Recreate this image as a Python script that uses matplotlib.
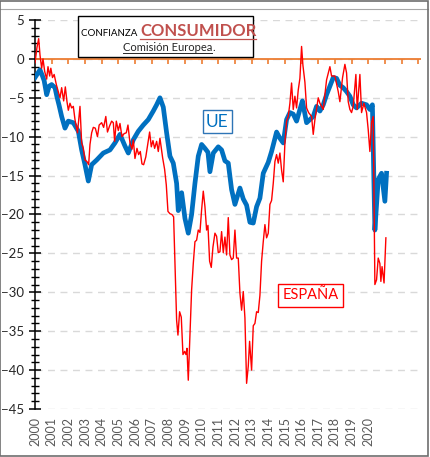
import matplotlib
matplotlib.use("Agg")
import matplotlib.pyplot as plt
from matplotlib.patches import Rectangle
from matplotlib.lines import Line2D

plt.rcParams['font.family'] = ['Lato', 'DejaVu Sans']

## ---- datos (fecha decimal, indicador) ---- ##
ue_fecha = [2000.00, 2000.15, 2000.30, 2000.45, 2000.55, 2000.70, 2000.85, 2001.00, 2001.20, 2001.32,
            2001.45, 2001.60, 2001.80, 2002.00, 2002.30, 2002.60, 2002.80, 2003.00, 2003.20, 2003.40,
            2003.70, 2004.10, 2004.50, 2004.80, 2005.10, 2005.40, 2005.60, 2005.90, 2006.20, 2006.50,
            2006.80, 2007.10, 2007.30, 2007.50, 2007.70, 2007.90, 2008.10, 2008.30, 2008.50, 2008.60,
            2008.80, 2009.00, 2009.20, 2009.40, 2009.60, 2009.80, 2010.00, 2010.20, 2010.38, 2010.50,
            2010.70, 2011.00, 2011.20, 2011.40, 2011.60, 2011.80, 2012.00, 2012.30, 2012.50, 2012.70,
            2012.90, 2013.10, 2013.30, 2013.50, 2013.70, 2014.00, 2014.20, 2014.50, 2014.70, 2014.90,
            2015.10, 2015.30, 2015.50, 2015.70, 2015.90, 2016.05, 2016.30, 2016.50, 2016.70, 2016.90,
            2017.10, 2017.30, 2017.50, 2017.70, 2017.90, 2018.10, 2018.30, 2018.50, 2018.70, 2018.90,
            2019.10, 2019.30, 2019.60, 2019.90, 2020.10, 2020.25, 2020.40, 2020.60, 2020.80, 2021.00,
            2021.10]
ue_valor = [-2.4, -1.9, -1.4, -2.2, -2.8, -4.6, -3.5, -3.3, -3.7, -4.9,
            -6.0, -7.4, -8.9, -8.0, -8.2, -9.3, -11.7, -13.6, -15.7, -13.6,
            -13.0, -12.1, -11.7, -10.8, -9.7, -11.2, -12.1, -10.4, -9.3, -8.5,
            -7.8, -6.7, -5.9, -5.0, -6.2, -9.5, -12.5, -13.4, -16.0, -19.5,
            -17.2, -20.5, -22.4, -20.0, -16.0, -12.5, -11.0, -11.5, -12.0, -14.5,
            -12.1, -11.3, -11.7, -13.1, -13.4, -16.8, -18.7, -16.6, -18.0, -18.8,
            -21.0, -21.1, -19.0, -17.9, -14.7, -13.3, -11.9, -9.4, -10.2, -10.8,
            -7.8, -6.9, -7.1, -8.0, -6.5, -5.4, -8.2, -7.8, -7.4, -6.1,
            -6.7, -5.9, -4.6, -3.5, -2.4, -2.5, -3.4, -3.7, -4.2, -4.8,
            -5.9, -6.3, -5.7, -5.9, -6.5, -5.9, -22.0, -15.5, -14.7, -18.3,
            -14.7]

es_fecha = [2000.00, 2000.12, 2000.22, 2000.30, 2000.40, 2000.48, 2000.58, 2000.70, 2000.78, 2000.88,
            2000.95, 2001.05, 2001.15, 2001.28, 2001.42, 2001.50, 2001.60, 2001.72, 2001.82, 2001.92,
            2002.00, 2002.10, 2002.20, 2002.30, 2002.40, 2002.55, 2002.70, 2002.80, 2002.90, 2003.00,
            2003.12, 2003.22, 2003.30, 2003.40, 2003.50, 2003.62, 2003.75, 2003.85, 2004.00, 2004.12,
            2004.25, 2004.35, 2004.48, 2004.60, 2004.70, 2004.78, 2004.88, 2005.00, 2005.10, 2005.22,
            2005.35, 2005.48, 2005.58, 2005.70, 2005.82, 2005.90, 2006.00, 2006.12, 2006.22, 2006.32,
            2006.42, 2006.52, 2006.65, 2006.78, 2006.88, 2006.98, 2007.08, 2007.18, 2007.30, 2007.40,
            2007.50, 2007.58, 2007.66, 2007.78, 2007.88, 2007.98, 2008.10, 2008.22, 2008.32, 2008.40,
            2008.50, 2008.58, 2008.68, 2008.78, 2008.88, 2008.98, 2009.06, 2009.12, 2009.20, 2009.30,
            2009.40, 2009.50, 2009.60, 2009.70, 2009.80, 2009.90, 2010.00, 2010.10, 2010.20, 2010.30,
            2010.38, 2010.48, 2010.58, 2010.68, 2010.80, 2010.90, 2011.00, 2011.10, 2011.20, 2011.30,
            2011.40, 2011.50, 2011.60, 2011.70, 2011.80, 2011.90, 2012.00, 2012.10, 2012.20, 2012.30,
            2012.40, 2012.50, 2012.60, 2012.70, 2012.80, 2012.88, 2013.00, 2013.10, 2013.20, 2013.30,
            2013.40, 2013.50, 2013.60, 2013.70, 2013.80, 2013.90, 2014.00, 2014.10, 2014.20, 2014.30,
            2014.40, 2014.50, 2014.60, 2014.70, 2014.80, 2014.90, 2015.00, 2015.10, 2015.20, 2015.30,
            2015.40, 2015.50, 2015.60, 2015.70, 2015.80, 2015.90, 2016.00, 2016.08, 2016.20, 2016.30,
            2016.42, 2016.60, 2016.70, 2016.80, 2017.00, 2017.10, 2017.30, 2017.50, 2017.70, 2017.80,
            2018.00, 2018.20, 2018.30, 2018.46, 2018.60, 2018.70, 2018.80, 2018.90, 2019.00, 2019.10,
            2019.26, 2019.34, 2019.50, 2019.60, 2019.74, 2019.90, 2020.00, 2020.10, 2020.20, 2020.30,
            2020.40, 2020.50, 2020.60, 2020.70, 2020.76, 2020.83, 2020.95, 2021.06]
es_valor = [-0.5, 1.5, 2.6, 0.5, -1.2, 0.0, -1.6, -2.6, -1.0, -2.2,
            -1.2, -2.4, -2.0, -3.3, -4.4, -5.0, -3.7, -5.4, -3.6, -5.5,
            -6.6, -5.7, -6.3, -6.1, -7.8, -9.5, -6.1, -10.8, -11.5, -13.0,
            -13.2, -13.6, -11.0, -9.5, -8.8, -8.9, -10.0, -8.5, -8.2, -8.8,
            -7.4, -9.4, -8.6, -8.0, -8.2, -10.6, -8.0, -9.2, -8.3, -10.0,
            -9.6, -9.5, -8.5, -10.8, -11.6, -10.4, -12.8, -11.5, -12.3, -11.9,
            -13.5, -13.6, -12.6, -10.8, -9.4, -11.3, -10.5, -11.5, -10.6, -11.9,
            -10.2, -11.4, -12.7, -14.2, -16.2, -19.6, -19.9, -20.0, -20.3, -26.3,
            -33.6, -35.5, -32.5, -33.2, -38.0, -37.6, -38.0, -37.2, -41.3, -35.3,
            -29.7, -26.3, -23.5, -23.3, -22.0, -22.3, -19.4, -17.0, -19.0, -22.0,
            -21.4, -26.0, -26.8, -24.2, -22.4, -22.8, -24.9, -24.8, -22.2, -24.9,
            -22.9, -25.2, -20.4, -25.2, -25.8, -25.6, -22.0, -25.6, -25.6, -30.1,
            -32.3, -29.9, -33.3, -41.7, -39.5, -36.3, -40.0, -34.3, -34.0, -32.5,
            -32.6, -30.4, -26.0, -23.5, -21.3, -23.0, -22.4, -18.7, -18.2, -16.0,
            -13.2, -12.3, -13.4, -12.1, -14.3, -15.8, -10.8, -8.0, -7.4, -5.7,
            -3.1, -6.5, -4.8, -6.3, -4.0, -2.5, 1.6, -0.8, -3.0, -6.3,
            -6.9, -7.4, -9.7, -7.8, -5.0, -5.7, -6.5, -2.7, -1.0, -2.2,
            -2.2, -4.2, -5.5, -2.4, -0.7, -1.8, -5.5, -6.5, -6.9, -6.1,
            -2.0, -6.5, -2.0, -6.9, -5.7, -6.9, -9.1, -11.9, -8.2, -7.4,
            -29.0, -28.4, -25.6, -26.3, -28.6, -26.7, -28.8, -23.0]

anios = list(range(2000, 2021))
etiquetas_anios = [str(a) for a in anios]
marcas_cero = list(range(2001, 2024))
ticks_y = list(range(-45, 6, 5))
## ------------------------------------------------------------ ##

W, H = 431, 457
fig = plt.figure(figsize=(W / 100, H / 100), dpi=100)
ax = fig.add_axes([35 / W, 1 - 409 / H, 385.7 / W, 389 / H])

ax.plot(ue_fecha, ue_valor, color='#0070C0', lw=3.4, solid_joinstyle='round', zorder=3)
ax.plot(es_fecha, es_valor, color='#FF0000', lw=1.0, zorder=4)

# linea del cero naranja con marcas hacia abajo
ax.axhline(0, color='#ED7D31', lw=1.3, zorder=2)
ax.plot(marcas_cero, [0] * len(marcas_cero), ls='none', marker=3, ms=3.5, mew=1.2,
        color='#ED7D31', zorder=2, clip_on=False)

ax.set_xlim(2000, 2023.15)
ax.set_ylim(-45, 5)
ax.set_yticks(ticks_y)
ax.set_yticks(range(-45, 6), minor=True)
ax.set_xticks(anios)
ax.set_xticklabels(etiquetas_anios, rotation=90)

ax.grid(axis='y', which='major', color='#D9D9D9', lw=1.0, linestyle=(0, (5, 4)))
ax.set_axisbelow(True)

for s in ['top', 'right', 'bottom']:
    ax.spines[s].set_visible(False)
ax.spines['left'].set_color('black')
ax.spines['left'].set_linewidth(1.1)

ax.tick_params(axis='y', which='major', direction='inout', length=8, width=1.1,
               labelsize=9.5, labelcolor='#262626', pad=4)
ax.tick_params(axis='y', which='minor', direction='inout', length=6, width=1.0)
ax.tick_params(axis='x', length=0, labelsize=9, labelcolor='#595959', pad=6)

# etiquetas de series
ax.text(2010.95, -8.1, 'UE', color='#0070C0', fontsize=12.5, ha='center', va='center', zorder=6,
        bbox=dict(boxstyle='square,pad=0.2', fc='white', ec='#2E75B6', lw=1.0))
ax.text(2016.56, -30.4, 'ESPAÑA', color='#FF0000', fontsize=10.5, ha='center', va='center', zorder=6,
        bbox=dict(boxstyle='square,pad=0.3', fc='white', ec='#FF0000', lw=1.0))

# cuadro del titulo
fig.patches.append(Rectangle((78.3 / W, 1 - 57.3 / H), 175 / W, 41.6 / H, transform=fig.transFigure,
                             fc='white', ec='black', lw=1.0, zorder=5))
t1 = fig.text(140 / W, 1 - 36 / H, 'CONFIANZA ', fontsize=7, color='black', ha='right', va='baseline', zorder=6)
t2 = fig.text(140 / W, 1 - 36 / H, 'CONSUMIDOR', fontsize=12, fontweight='bold', color='#C0504D',
              ha='left', va='baseline', zorder=6)
t3 = fig.text(123 / W, 1 - 50.7 / H, 'Comisión Europea', fontsize=8, color='#262626', ha='left',
              va='baseline', zorder=6)

# marco exterior
fig.patches.append(Rectangle((0.5 / W, 1 - 456 / H), 428 / W, 455 / H, transform=fig.transFigure,
                             fill=False, ec='#6E6E6E', lw=1.2, zorder=10))
fig.lines.append(Line2D([0, 428.5 / W], [1 - 9 / H, 1 - 9 / H], transform=fig.transFigure,
                        color='#A6A6A6', lw=0.8, zorder=10))

# subrayados
fig.canvas.draw()
r = fig.canvas.get_renderer()
b2 = t2.get_window_extent(r)
b3 = t3.get_window_extent(r)
fig.text(b3.x1 / W, 1 - 50.7 / H, '.', fontsize=8, color='#262626', ha='left', va='baseline', zorder=6)
yb2 = (1 - 38.5 / H)
yb3 = (1 - 52.8 / H)
fig.lines.append(Line2D([b2.x0 / W, b2.x1 / W], [yb2, yb2], transform=fig.transFigure,
                        color='#C0504D', lw=0.9, zorder=6))
fig.lines.append(Line2D([b3.x0 / W, b3.x1 / W], [yb3, yb3], transform=fig.transFigure,
                        color='#262626', lw=0.7, zorder=6))

fig.savefig('out.png', dpi=100)
